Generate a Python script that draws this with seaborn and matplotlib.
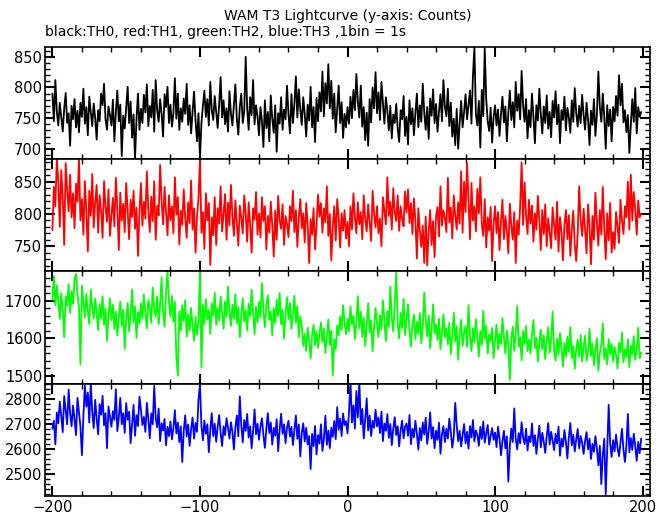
import numpy as np
import pandas as pd
import seaborn as sns
from matplotlib import pyplot as plt
from matplotlib.ticker import MultipleLocator

# time bins (1 s)
time_s = np.arange(-200, 200)

th0_counts = [
    790, 745, 812, 760, 738, 775, 752, 728, 766, 791, 742, 758, 705, 770, 748, 781, 735, 762, 727, 775,
    752, 798, 741, 768, 722, 785, 760, 737, 774, 750, 715, 763, 745, 790, 771, 806, 748, 731, 769, 755,
    738, 780, 712, 760, 795, 745, 772, 688, 754, 733, 768, 801, 742, 777, 718, 756, 683, 749, 790, 731,
    765, 742, 788, 759, 805, 737, 770, 751, 796, 728, 812, 763, 744, 781, 757, 720, 789, 768, 801, 742,
    772, 736, 758, 815, 749, 790, 731, 766, 744, 782, 757, 806, 739, 771, 725, 761, 793, 746, 712, 758,
    684, 742, 770, 795, 752, 781, 738, 809, 763, 747, 786, 759, 734, 772, 817, 751, 779, 740, 766, 728,
    794, 757, 738, 772, 805, 749, 723, 768, 790, 742, 761, 850, 766, 731, 784, 755, 812, 740, 771, 753,
    722, 768, 745, 703, 779, 734, 760, 712, 787, 749, 726, 771, 695, 758, 741, 784, 731, 764, 748, 803,
    756, 725, 789, 742, 773, 818, 751, 797, 764, 739, 784, 757, 720, 772, 746, 801, 735, 768, 711, 783,
    745, 792, 761, 826, 753, 807, 774, 838, 766, 811, 749, 790, 727, 764, 803, 742, 776, 718, 757, 735,
    768, 741, 785, 750, 796, 763, 822, 777, 751, 803, 736, 768, 714, 759, 705, 781, 743, 800, 766, 825,
    758, 792, 747, 809, 775, 741, 784, 762, 730, 770, 717, 756, 742, 773, 733, 711, 763, 748, 786, 721,
    752, 707, 779, 740, 766, 722, 758, 790, 735, 771, 744, 806, 759, 731, 768, 716, 782, 754, 797, 742,
    773, 728, 761, 789, 745, 812, 769, 753, 798, 737, 775, 720, 749, 706, 765, 700, 742, 778, 735, 760,
    789, 748, 772, 795, 741, 819, 866, 757, 738, 778, 702, 796, 753, 864, 781, 745, 729, 767, 710, 752,
    771, 738, 764, 721, 756, 785, 743, 769, 712, 758, 795, 747, 776, 735, 809, 762, 789, 748, 827, 771,
    744, 781, 717, 763, 735, 790, 752, 709, 771, 746, 798, 756, 725, 769, 742, 787, 733, 760, 719, 778,
    751, 794, 740, 772, 709, 763, 747, 785, 730, 767, 751, 726, 779, 744, 799, 758, 736, 770, 742, 788,
    755, 731, 775, 748, 706, 762, 739, 781, 721, 755, 826, 768, 744, 790, 752, 700, 771, 737, 764, 712,
    768, 745, 786, 754, 820, 771, 806, 743, 763, 727, 755, 693, 739, 781, 744, 799, 725, 768, 752, 760,
]

th1_counts = [
    775, 842, 812, 885, 851, 780, 868, 826, 752, 879, 838, 804, 861, 795, 832, 778, 847, 819, 885, 790,
    823, 768, 851, 805, 742, 836, 797, 862, 779, 818, 845, 771, 829, 804, 763, 851, 812, 788, 838, 766,
    797, 825, 781, 856, 809, 744, 833, 790, 816, 772, 848, 803, 761, 822, 795, 836, 777, 810, 735, 804,
    848, 782, 819, 793, 866, 805, 772, 827, 789, 851, 760, 813, 798, 876, 821, 784, 842, 803, 767, 829,
    790, 812, 770, 857, 799, 826, 753, 805, 783, 838, 794, 763, 818, 786, 852, 776, 809, 740, 797, 824,
    885, 771, 803, 746, 832, 790, 817, 721, 795, 767, 826, 752, 809, 785, 843, 773, 800, 831, 760, 818,
    782, 845, 797, 766, 821, 786, 751, 813, 794, 770, 829, 801, 757, 818, 783, 740, 809, 791, 834, 768,
    801, 764, 826, 789, 812, 745, 797, 771, 819, 782, 734, 805, 760, 828, 790, 777, 815, 752, 797, 784,
    764, 812, 789, 836, 772, 806, 749, 795, 823, 778, 801, 756, 817, 782, 724, 792, 768, 809, 745, 782,
    830, 796, 817, 771, 809, 787, 843, 766, 800, 728, 780, 812, 759, 823, 795, 748, 801, 774, 806, 762,
    788, 750, 812, 776, 832, 795, 770, 818, 784, 803, 761, 829, 792, 773, 815, 787, 758, 836, 801, 779,
    812, 770, 793, 750, 826, 804, 784, 857, 797, 819, 776, 840, 803, 789, 829, 774, 812, 792, 781, 835,
    802, 838, 786, 817, 769, 824, 790, 731, 809, 775, 749, 782, 724, 796, 720, 773, 806, 752, 789, 733,
    797, 811, 765, 843, 782, 806, 794, 772, 856, 787, 810, 762, 829, 798, 776, 818, 785, 866, 771, 850,
    803, 879, 823, 761, 848, 790, 812, 773, 839, 801, 857, 784, 766, 823, 748, 795, 774, 811, 727, 786,
    812, 770, 803, 744, 789, 822, 761, 797, 774, 739, 816, 782, 760, 803, 724, 790, 768, 812, 880, 783,
    849, 798, 769, 822, 785, 813, 757, 801, 776, 828, 790, 744, 806, 769, 815, 750, 793, 772, 747, 810,
    784, 760, 819, 742, 795, 772, 728, 783, 806, 761, 798, 735, 776, 805, 752, 727, 771, 843, 790, 766,
    808, 776, 739, 815, 782, 722, 797, 760, 833, 786, 751, 806, 768, 842, 778, 730, 801, 759, 817, 740,
    772, 746, 803, 781, 755, 822, 790, 769, 812, 795, 850, 776, 861, 790, 834, 807, 768, 821, 795, 800,
]

th2_counts = [
    1702, 1765, 1688, 1741, 1695, 1652, 1720, 1678, 1603, 1711, 1686, 1744, 1668, 1725, 1692, 1758, 1772, 1715, 1682, 1531,
    1740, 1697, 1656, 1718, 1671, 1638, 1729, 1684, 1652, 1705, 1667, 1622, 1691, 1653, 1712, 1636, 1680, 1594, 1662, 1706,
    1648, 1689, 1625, 1671, 1608, 1657, 1698, 1633, 1676, 1572, 1650, 1694, 1618, 1665, 1730, 1642, 1684, 1601, 1670, 1639,
    1693, 1652, 1716, 1668, 1627, 1702, 1681, 1641, 1735, 1676, 1659, 1711, 1638, 1689, 1762, 1670, 1631, 1724, 1778, 1696,
    1658, 1713, 1644, 1697, 1550, 1501, 1672, 1621, 1688, 1646, 1701, 1605, 1663, 1620, 1681, 1632, 1594, 1657, 1610, 1648,
    1778, 1522, 1689, 1638, 1704, 1651, 1675, 1612, 1693, 1660, 1721, 1636, 1682, 1647, 1711, 1667, 1625, 1698, 1658, 1737,
    1671, 1633, 1689, 1652, 1717, 1640, 1683, 1603, 1661, 1706, 1645, 1674, 1621, 1692, 1658, 1729, 1668, 1611, 1684, 1643,
    1697, 1656, 1746, 1674, 1630, 1688, 1714, 1649, 1671, 1608, 1680, 1641, 1702, 1659, 1720, 1637, 1676, 1599, 1664, 1709,
    1651, 1694, 1625, 1667, 1713, 1642, 1685, 1603, 1659, 1633, 1580, 1612, 1567, 1628, 1594, 1547, 1609, 1636, 1582, 1620,
    1575, 1613, 1642, 1589, 1626, 1561, 1604, 1650, 1583, 1620, 1502, 1598, 1571, 1634, 1608, 1659, 1622, 1688, 1640, 1611,
    1652, 1619, 1685, 1637, 1660, 1598, 1643, 1712, 1626, 1671, 1604, 1655, 1580, 1637, 1693, 1615, 1648, 1566, 1629, 1681,
    1640, 1604, 1662, 1623, 1701, 1645, 1593, 1672, 1631, 1738, 1656, 1618, 1689, 1775, 1642, 1600, 1668, 1627, 1705, 1609,
    1652, 1691, 1620, 1578, 1639, 1663, 1598, 1644, 1612, 1667, 1587, 1631, 1722, 1648, 1605, 1660, 1574, 1625, 1690, 1613,
    1637, 1596, 1652, 1571, 1619, 1664, 1603, 1627, 1585, 1641, 1558, 1610, 1668, 1592, 1632, 1543, 1606, 1649, 1580, 1614,
    1633, 1577, 1688, 1605, 1566, 1627, 1589, 1651, 1604, 1552, 1619, 1583, 1673, 1598, 1634, 1560, 1611, 1592, 1628, 1548,
    1596, 1637, 1571, 1612, 1585, 1654, 1603, 1559, 1621, 1580, 1490, 1598, 1631, 1567, 1612, 1686, 1578, 1603, 1542, 1620,
    1585, 1633, 1566, 1597, 1560, 1612, 1649, 1574, 1601, 1538, 1589, 1623, 1570, 1608, 1545, 1592, 1630, 1562, 1596, 1671,
    1568, 1541, 1599, 1557, 1614, 1576, 1525, 1588, 1552, 1604, 1564, 1630, 1547, 1580, 1519, 1573, 1596, 1551, 1609, 1538,
    1576, 1607, 1540, 1564, 1626, 1553, 1585, 1528, 1569, 1600, 1514, 1561, 1583, 1639, 1545, 1573, 1531, 1598, 1557, 1586,
    1539, 1577, 1555, 1520, 1588, 1562, 1615, 1536, 1571, 1550, 1597, 1524, 1581, 1558, 1606, 1543, 1569, 1628, 1547, 1562,
]

th3_counts = [
    2680, 2712, 2618, 2745, 2702, 2788, 2731, 2667, 2810, 2755, 2698, 2836, 2742, 2690, 2772, 2718, 2655, 2803, 2744, 2689,
    2575, 2730, 2851, 2768, 2824, 2705, 2862, 2747, 2683, 2795, 2721, 2658, 2778, 2736, 2811, 2694, 2742, 2603, 2769, 2727,
    2688, 2750, 2715, 2837, 2671, 2725, 2803, 2698, 2742, 2664, 2782, 2716, 2748, 2623, 2700, 2775, 2652, 2734, 2691, 2808,
    2756, 2695, 2727, 2668, 2783, 2719, 2642, 2741, 2698, 2851, 2724, 2686, 2760, 2631, 2702, 2673, 2719, 2615, 2688, 2651,
    2709, 2638, 2683, 2754, 2661, 2705, 2627, 2690, 2548, 2672, 2733, 2650, 2697, 2612, 2679, 2725, 2641, 2703, 2668, 2797,
    2855, 2692, 2634, 2713, 2660, 2698, 2587, 2675, 2742, 2651, 2700, 2628, 2688, 2735, 2664, 2612, 2690, 2655, 2722, 2683,
    2641, 2706, 2668, 2598, 2687, 2733, 2650, 2809, 2694, 2626, 2715, 2672, 2739, 2645, 2690, 2603, 2671, 2757, 2658, 2700,
    2636, 2689, 2722, 2655, 2604, 2681, 2742, 2663, 2705, 2617, 2684, 2652, 2718, 2591, 2677, 2740, 2660, 2698, 2623, 2686,
    2712, 2649, 2688, 2615, 2675, 2733, 2640, 2697, 2571, 2663, 2702, 2629, 2684, 2618, 2651, 2520, 2660, 2611, 2691, 2578,
    2655, 2621, 2698, 2592, 2640, 2732, 2616, 2673, 2603, 2685, 2648, 2711, 2639, 2766, 2676, 2720, 2651, 2741, 2695, 2710,
    2662, 2746, 2870, 2705, 2773, 2681, 2830, 2726, 2868, 2698, 2759, 2642, 2718, 2801, 2673, 2733, 2651, 2712, 2684, 2756,
    2690, 2725, 2663, 2748, 2631, 2701, 2672, 2738, 2644, 2699, 2615, 2680, 2726, 2655, 2690, 2610, 2674, 2712, 2642, 2688,
    2701, 2652, 2735, 2619, 2680, 2646, 2712, 2661, 2597, 2683, 2634, 2705, 2657, 2724, 2620, 2669, 2745, 2641, 2687, 2603,
    2672, 2636, 2704, 2581, 2659, 2690, 2627, 2680, 2641, 2721, 2668, 2605, 2650, 2783, 2694, 2631, 2672, 2610, 2655, 2699,
    2622, 2668, 2601, 2691, 2645, 2715, 2630, 2673, 2656, 2612, 2688, 2640, 2709, 2625, 2662, 2695, 2617, 2651, 2683, 2636,
    2665, 2607, 2688, 2642, 2575, 2630, 2672, 2602, 2650, 2470, 2612, 2681, 2627, 2761, 2640, 2598, 2663, 2622, 2706, 2645,
    2619, 2680, 2594, 2650, 2627, 2701, 2612, 2655, 2580, 2641, 2692, 2606, 2664, 2629, 2584, 2650, 2703, 2617, 2668, 2633,
    2595, 2660, 2622, 2688, 2573, 2641, 2609, 2675, 2628, 2562, 2646, 2703, 2614, 2657, 2590, 2637, 2679, 2602, 2651, 2625,
    2580, 2632, 2667, 2598, 2641, 2560, 2620, 2588, 2651, 2602, 2535, 2612, 2460, 2577, 2640, 2420, 2598, 2775, 2622, 2568,
    2635, 2590, 2657, 2604, 2571, 2625, 2680, 2598, 2548, 2612, 2739, 2587, 2643, 2596, 2660, 2613, 2552, 2628, 2583, 2641,
]

channels = ['TH0', 'TH1', 'TH2', 'TH3']
colors = ['#000000', '#ff0000', '#00ff00', '#0000ff']
ylims = [(683, 866), (711, 885), (1480, 1778), (2414, 2860)]
ymajor = [50, 50, 100, 100]
yminor = [10, 10, 20, 20]

df = pd.DataFrame({
    'time': np.tile(time_s, 4),
    'counts': np.concatenate([th0_counts, th1_counts, th2_counts, th3_counts]),
    'channel': np.repeat(channels, len(time_s)),
})

sns.set_style('ticks')
plt.rcParams['font.family'] = ['DejaVu Sans']
plt.rcParams['text.color'] = 'black'
plt.rcParams['xtick.color'] = 'black'
plt.rcParams['ytick.color'] = 'black'

fig, axes = plt.subplots(4, 1, figsize=(6.69, 5.15), dpi=100, sharex=True)
fig.subplots_adjust(left=0.0673, right=0.9716, top=0.9087, bottom=0.0375, hspace=0)

for ax, ch, col, yl, ymj, ymn in zip(axes, channels, colors, ylims, ymajor, yminor):
    sns.lineplot(data=df[df['channel'] == ch], x='time', y='counts', color=col,
                 linewidth=1.3, estimator=None, sort=False, ax=ax, legend=False)
    ax.set_xlim(-205, 205)
    ax.set_ylim(*yl)
    ax.yaxis.set_major_locator(MultipleLocator(ymj))
    ax.yaxis.set_minor_locator(MultipleLocator(ymn))
    ax.xaxis.set_major_locator(MultipleLocator(100))
    ax.xaxis.set_minor_locator(MultipleLocator(20))
    ax.tick_params(which='both', direction='in', top=True, right=True)
    ax.tick_params(which='major', length=7, width=1.5, labelsize=10.5, labelcolor='black', pad=2)
    ax.tick_params(which='minor', length=3.5, width=1)
    ax.tick_params(axis='x', which='major', pad=3)
    ax.set_xlabel('')
    ax.set_ylabel('')
    for sp in ax.spines.values():
        sp.set_linewidth(1.2)
        sp.set_color('black')

fig.text(0.5195, 0.968, 'WAM T3 Lightcurve (y-axis: Counts)', ha='center', va='center',
         fontsize=10, color='black')
fig.text(0.068, 0.937, 'black:TH0, red:TH1, green:TH2, blue:TH3 ,1bin = 1s', ha='left', va='center',
         fontsize=10, color='black')

fig.savefig('out.png', dpi=100)
